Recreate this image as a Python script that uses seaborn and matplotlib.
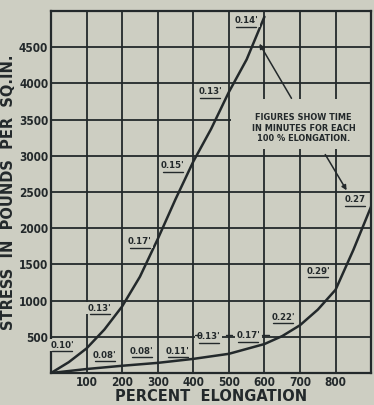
import matplotlib
matplotlib.use("Agg")
import matplotlib.pyplot as plt
from matplotlib.patches import Rectangle
from matplotlib import font_manager
import seaborn as sns
import pandas as pd

# ---- data ----
fast_x = [0, 50, 100, 150, 200, 250, 300, 350, 400, 450, 500, 550, 600]
fast_y = [0, 150, 340, 600, 920, 1330, 1850, 2400, 2920, 3370, 3880, 4330, 4920]

slow_x = [0, 100, 200, 300, 400, 500, 600, 650, 700, 750, 800, 850, 900]
slow_y = [0, 55, 100, 140, 195, 265, 400, 510, 660, 875, 1150, 1700, 2300]

fast_labels = ["0.10'", "0.13'", "0.17'", "0.15'", "0.13'", "0.14'"]
fast_label_x = [31, 137, 249, 342, 448, 549]
fast_label_y = [320, 830, 1750, 2800, 3820, 4800]

slow_labels = ["0.08'", "0.08'", "0.11'", "0.13'", "0.17'", "0.22'", "0.29'", "0.27"]
slow_label_x = [151, 255, 356, 443, 555, 653, 751, 854]
slow_label_y = [180, 235, 235, 440, 455, 710, 1340, 2330]

x_ticks = [100, 200, 300, 400, 500, 600, 700, 800]
y_ticks = [500, 1000, 1500, 2000, 2500, 3000, 3500, 4000, 4500]

note_text = "FIGURES SHOW TIME\nIN MINUTES FOR EACH\n100 % ELONGATION."
x_title = "PERCENT  ELONGATION"
y_title = "STRESS  IN  POUNDS  PER  SQ.IN."

# ---- style ----
BG = "#cdcec2"
INK = "#23292b"
sns.set_theme(style="white")
names = {f.name for f in font_manager.fontManager.ttflist}
fam = [n for n in ["Liberation Sans Narrow", "DejaVu Sans"] if n in names] + ["DejaVu Sans"]
plt.rcParams["font.family"] = fam
plt.rcParams["font.stretch"] = "condensed"

fig = plt.figure(figsize=(3.74, 4.05), dpi=100, facecolor=BG)
ax = fig.add_axes([0.1364, 0.079, 0.856, 0.894])
ax.set_facecolor(BG)

df_fast = pd.DataFrame({"x": fast_x, "y": fast_y})
df_slow = pd.DataFrame({"x": slow_x, "y": slow_y})
sns.lineplot(data=df_fast, x="x", y="y", ax=ax, color=INK, lw=1.8, zorder=4)
sns.lineplot(data=df_slow, x="x", y="y", ax=ax, color=INK, lw=1.8, zorder=4)

ax.set_xlim(0, 900)
ax.set_ylim(0, 5000)
ax.set_xticks(list(range(0, 901, 100)))
ax.set_yticks(list(range(0, 5001, 500)))
ax.grid(True, color=INK, lw=1.3, zorder=1)
ax.set_axisbelow(True)
ax.set_xticklabels([str(v) if v in x_ticks else "" for v in range(0, 901, 100)])
ax.set_yticklabels([str(v) if v in y_ticks else "" for v in range(0, 5001, 500)])
ax.tick_params(axis="both", length=0, labelsize=8.5, colors=INK, pad=2)
for lab in ax.get_xticklabels() + ax.get_yticklabels():
    lab.set_fontweight("bold")
for s in ax.spines.values():
    s.set_color(INK)
    s.set_linewidth(1.6)

ax.set_xlabel(x_title, fontsize=10.5, color=INK, labelpad=0, fontstretch="normal",
              fontweight="bold")
ax.set_ylabel(y_title, fontsize=10.5, color=INK, labelpad=2, fontstretch="normal",
              fontweight="bold")

lab_kw = dict(fontsize=6.8, color=INK, ha="center", va="bottom", zorder=6,
              fontweight="bold")
for t, x, y in zip(fast_labels + slow_labels, fast_label_x + slow_label_x,
                   fast_label_y + slow_label_y):
    ax.text(x, y, t, bbox=dict(boxstyle="square,pad=0.15", fc=BG, ec="none"), **lab_kw)
    ax.plot([x - 28, x + 28], [y - 20, y - 20], color=INK, lw=1.0, zorder=7)

# dashes between labels on lower curve
ax.plot([405, 418], [520, 520], color=INK, lw=1.0, zorder=7)
ax.plot([492, 508], [525, 525], color=INK, lw=1.0, zorder=7)
ax.plot([593, 612], [530, 530], color=INK, lw=1.0, zorder=7)

# clear panel behind the note
ax.add_patch(Rectangle((506, 3100), 394, 690, fc=BG, ec="none", zorder=2))
ax.text(710, 3380, note_text, fontsize=6.6, color=INK, ha="center", va="center",
        fontweight="bold", linespacing=1.25, zorder=6)
ax.annotate("", xy=(582, 4580), xytext=(680, 3760),
            arrowprops=dict(arrowstyle="-|>", color=INK, lw=1.1, mutation_scale=7),
            zorder=6)
ax.annotate("", xy=(835, 2490), xytext=(767, 3050),
            arrowprops=dict(arrowstyle="-|>", color=INK, lw=1.1, mutation_scale=7),
            zorder=6)

fig.savefig("out.png", dpi=100, facecolor=BG)
